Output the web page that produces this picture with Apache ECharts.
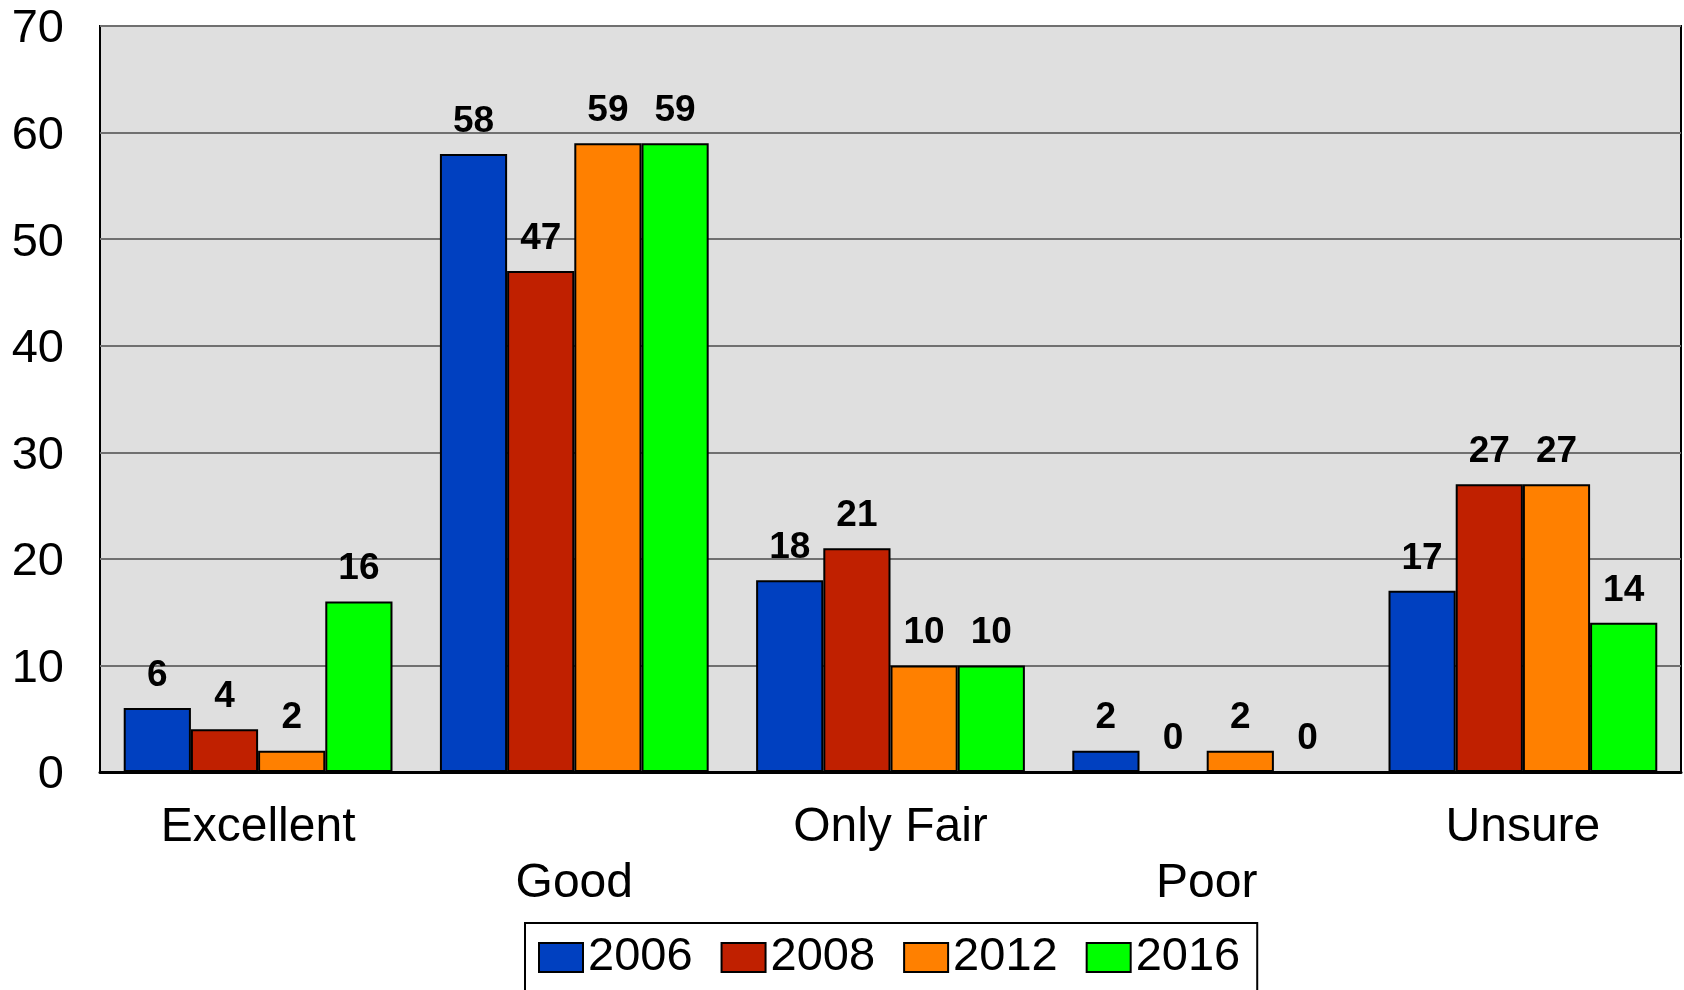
<!DOCTYPE html>
<html>
<head>
<meta charset="utf-8">
<script src="https://cdn.jsdelivr.net/npm/echarts@6/dist/echarts.min.js"></script>
<style>
  html, body { margin: 0; padding: 0; background: #fff; }
  #main { width: 1684px; height: 990px; }
</style>
</head>
<body>
<div id="main"></div>
<script>
// categories and series values
var categories = ['Excellent', 'Good', 'Only Fair', 'Poor', 'Unsure'];
var years = ['2006', '2008', '2012', '2016'];
var data2006 = [6, 58, 18, 2, 17];
var data2008 = [4, 47, 21, 0, 27];
var data2012 = [2, 59, 10, 2, 27];
var data2016 = [16, 59, 10, 0, 14];
var colors = ['#0040C0', '#C02000', '#FF8000', '#00FF00'];

var font = '"Liberation Sans", Arial, sans-serif';
var allData = [data2006, data2008, data2012, data2016];

var series = [];
for (var i = 0; i < years.length; i++) {
    series.push({
        name: years[i],
        type: 'bar',
        barGap: '0%',
        barCategoryGap: '15%',
        data: allData[i],
        itemStyle: { color: colors[i], borderColor: '#000', borderWidth: 2 },
        label: {
            show: true,
            position: 'top',
            distance: 14,
            color: '#000',
            fontWeight: 'bold',
            fontSize: 37,
            fontFamily: font
        }
    });
}

var myChart = echarts.init(document.getElementById('main'));
myChart.setOption({
    animation: false,
    backgroundColor: '#fff',
    grid: {
        left: 100, right: 3, top: 26, bottom: 218,
        show: true,
        backgroundColor: '#dfdfdf',
        borderColor: '#000',
        borderWidth: 2
    },
    legend: {
        data: years,
        left: 525,
        top: 923,
        padding: [11, 17, 30, 13],
        itemGap: 28,
        itemWidth: 44,
        itemHeight: 29,
        borderColor: '#000',
        borderWidth: 2,
        icon: 'rect',
        textStyle: { fontSize: 47, color: '#000', fontFamily: font }
    },
    xAxis: {
        type: 'category',
        data: categories,
        axisTick: { show: false },
        axisLine: { lineStyle: { color: '#000', width: 3 } },
        axisLabel: {
            color: '#000',
            fontSize: 48,
            fontFamily: font,
            margin: 28,
            lineHeight: 56,
            interval: 0,
            formatter: function (v, idx) {
                return idx % 2 === 1 ? '\n' + v : v;
            }
        }
    },
    yAxis: {
        type: 'value',
        min: 0,
        max: 70,
        interval: 10,
        axisLine: { show: false },
        axisTick: { show: false },
        splitLine: { lineStyle: { color: '#707070', width: 2 } },
        axisLabel: {
            color: '#000',
            fontFamily: font,
            margin: 36,
            formatter: function (v) { return '{v|' + v + '}'; },
            rich: {
                v: { fontSize: 47, fontFamily: font, color: '#000', padding: [7, 0, 0, 0] }
            }
        }
    },
    series: series
});
</script>
</body>
</html>
